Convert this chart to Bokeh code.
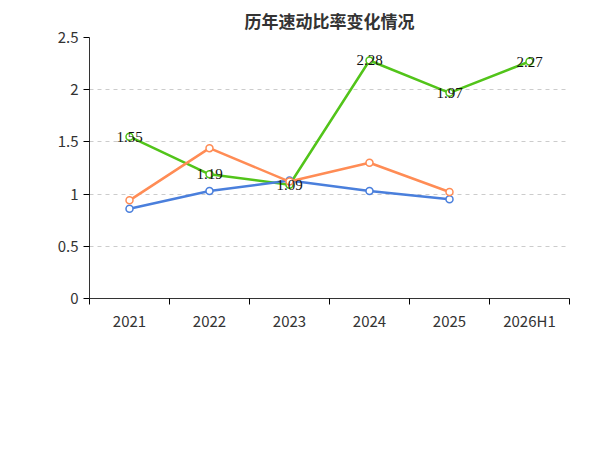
from bokeh.plotting import figure
from bokeh.models import FixedTicker, Legend, LegendItem, Title, Range1d, LabelSet, ColumnDataSource
from bokeh.embed import file_html
from bokeh.resources import INLINE

years = ["2021", "2022", "2023", "2024", "2025", "2026H1"]
quick = [1.55, 1.19, 1.09, 2.28, 1.97, 2.27]
ind_avg = [0.86, 1.03, 1.13, 1.03, 0.95]
ind_med = [0.94, 1.44, 1.12, 1.30, 1.02]

F = "Noto Sans CJK SC"
xs = [i + 0.5 for i in range(len(years))]

p = figure(frame_width=480, frame_height=261, output_backend="svg", toolbar_location=None,
           x_range=Range1d(0, len(years)), y_range=Range1d(0, 2.5),
           min_border_left=89, min_border_right=15, min_border_top=10)
p.title.text = "历年速动比率变化情况"
p.title.align = "center"
p.title.text_font = F
p.title.text_font_size = "17px"
p.title.text_color = "#333333"
p.outline_line_color = None
p.xgrid.visible = False
p.ygrid.grid_line_dash = "4 4"
p.ygrid.grid_line_color = "#cccccc"
p.yaxis.ticker = FixedTicker(ticks=[0, 0.5, 1, 1.5, 2, 2.5])
p.yaxis.major_label_overrides = {0: "0", 0.5: "0.5", 1: "1", 1.5: "1.5", 2: "2", 2.5: "2.5"}
p.xaxis.ticker = FixedTicker(ticks=xs, minor_ticks=list(range(len(years) + 1)))
p.xaxis.major_label_overrides = {x: y for x, y in zip(xs, years)}
p.xaxis.major_tick_line_color = None
p.xaxis.minor_tick_out = 6
p.xaxis.minor_tick_in = 0
p.yaxis.minor_tick_line_color = None
p.yaxis.major_tick_in = 0
p.yaxis.major_tick_out = 6
for ax in (p.xaxis, p.yaxis):
    ax.axis_line_color = "#333333"
    ax.major_label_text_font = F
    ax.major_label_text_font_size = "15px"
    ax.major_label_text_color = "#333333"

items = []
for vals, col, name in [(quick, "#52c41a", "速动比率"), (ind_avg, "#4a7fdc", "行业均值"), (ind_med, "#ff8c55", "行业中位数")]:
    x = xs[:len(vals)]
    l = p.line(x, vals, line_color=col, line_width=2.5)
    c = p.scatter(x, vals, size=7, fill_color="white", line_color=col, line_width=1.5)
    items.append(LegendItem(label=name, renderers=[l, c]))

src = ColumnDataSource(dict(x=xs, y=quick, t=[f"{v:.2f}" for v in quick]))
p.add_layout(LabelSet(x="x", y="y", text="t", source=src, text_align="center", text_baseline="middle",
                      text_font=F, text_font_size="15px", text_color="#111111"))

leg = Legend(items=items, orientation="horizontal", border_line_color=None,
             label_text_font=F, label_text_font_size="15px", label_text_color="#333333",
             glyph_width=40, spacing=20, margin=8)
p.add_layout(leg, "below")
p.add_layout(Title(text="制图数据来自恒生聚源数据库", align="center", text_font=F,
                   text_font_size="12px", text_color="#c8962e", text_font_style="normal"), "below")

open("out.html", "w").write(file_html(p, INLINE))
